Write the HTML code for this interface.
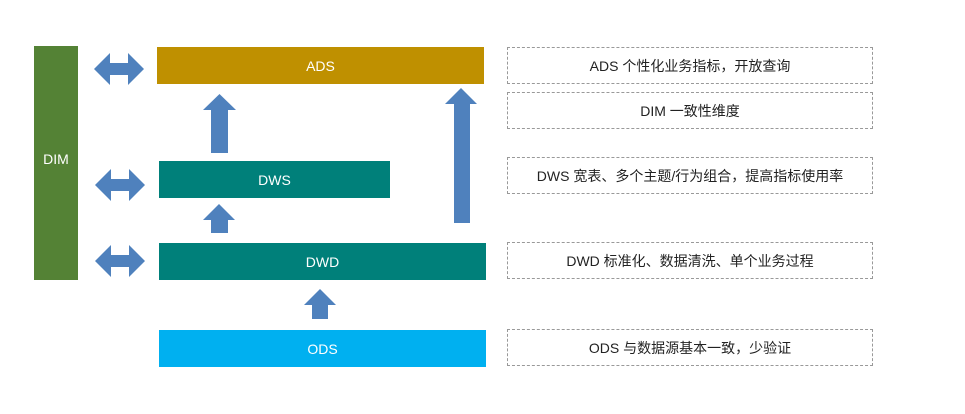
<!DOCTYPE html>
<html><head><meta charset="utf-8"><style>
body{margin:0;width:965px;height:414px;background:#fff;position:relative;overflow:hidden;font-family:"Liberation Sans","Noto Sans CJK SC",sans-serif}
.b{position:absolute;color:#fff;font-size:14px;display:flex;align-items:center;justify-content:center}
.d{position:absolute;left:507px;width:366px;height:37px;border:1px dashed #999;box-sizing:border-box;display:flex;align-items:center;justify-content:center;font-size:14px;color:#222}
svg{position:absolute;left:0;top:0}
</style></head><body>
<div class="b" style="left:34px;top:46px;width:44px;height:234px;background:#548235;align-items:flex-start;padding-top:0"><span style="margin-top:105px">DIM</span></div>
<div class="b" style="left:157px;top:47px;width:327px;height:37px;background:#bf9000">ADS</div>
<div class="b" style="left:159px;top:161px;width:231px;height:37px;background:#00807a">DWS</div>
<div class="b" style="left:159px;top:243px;width:327px;height:37px;background:#00807a">DWD</div>
<div class="b" style="left:159px;top:330px;width:327px;height:37px;background:#00b0f0">ODS</div>
<svg width="965" height="414" fill="#4f81bd">
<polygon points="94,69 110,53 110,63 128,63 128,53 144,69 128,85 128,75 110,75 110,85"/>
<polygon points="95,185 111,169 111,179 129,179 129,169 145,185 129,201 129,191 111,191 111,201"/>
<polygon points="95,261 111,245 111,255 129,255 129,245 145,261 129,277 129,267 111,267 111,277"/>
<polygon points="203,110 219.5,94 236,110 228,110 228,153 211,153 211,110"/>
<polygon points="203,220 219,204 235,220 228,220 228,233 211,233 211,220"/>
<polygon points="445,104 461,88 477,104 470,104 470,223 454,223 454,104"/>
<polygon points="304,305 320,289 336,305 328,305 328,319 312,319 312,305"/>
</svg>
<div class="d" style="top:47px">ADS 个性化业务指标，开放查询</div>
<div class="d" style="top:92px">DIM 一致性维度</div>
<div class="d" style="top:157px">DWS 宽表、多个主题/行为组合，提高指标使用率</div>
<div class="d" style="top:242px">DWD 标准化、数据清洗、单个业务过程</div>
<div class="d" style="top:329px">ODS 与数据源基本一致，少验证</div>
</body></html>
